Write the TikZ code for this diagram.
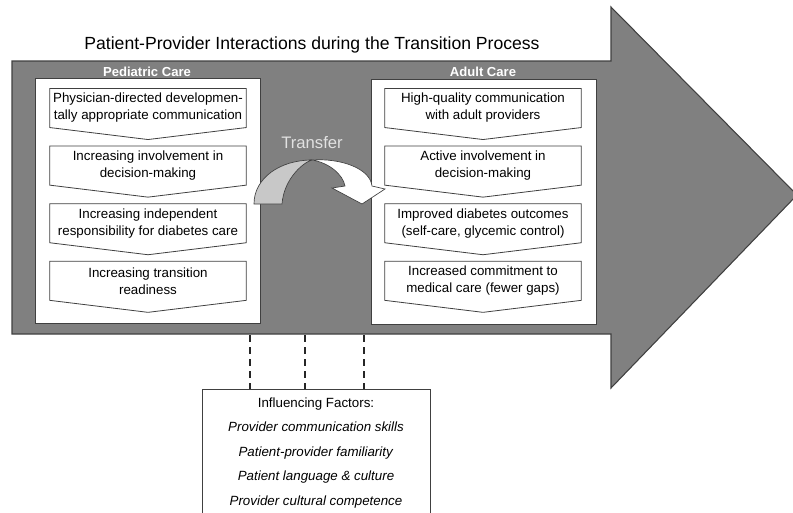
\documentclass[tikz,border=0pt]{standalone}
\usepackage{fontspec}
\setmainfont{Liberation Sans}
\usetikzlibrary{positioning,calc}
\definecolor{arrowgray}{RGB}{128,128,128}
\definecolor{edgegray}{RGB}{64,64,64}
\definecolor{backgray}{RGB}{200,200,200}
\definecolor{labelgray}{RGB}{225,225,225}

\begin{document}
\begin{tikzpicture}[
    x=0.75pt, y=-0.75pt,
    node distance=13.9pt,
    txt/.style={font=\fontsize{10}{12.75}\selectfont},
    panel/.style={draw=edgegray, fill=white, line width=0.7pt, minimum width=168.75pt, minimum height=183.75pt, inner sep=0pt},
    chev/.style={txt, minimum width=147pt, minimum height=28.9pt, inner sep=0pt, align=center},
    chevline/.style={draw=edgegray, line width=0.6pt},
    head/.style={font=\fontsize{9.8}{12}\selectfont\bfseries, text=white},
    dashline/.style={line width=2pt, draw=black!85, dash pattern=on 5.2pt off 3.8pt}
]
    \useasboundingbox (0,0) rectangle (793,512);

    % Big arrow
    \draw[fill=arrowgray, draw=edgegray, line width=0.8pt] (12,61) -- (611,61) -- (611,7) -- (797,195)
        -- (611,388) -- (611,334) -- (12,334) -- cycle;
    \node[font=\fontsize{13.2}{15}\selectfont] (title) at (312,45) {Patient-Provider Interactions during the Transition Process};

    % Panels
    \node[panel] (pedbox) at (147.5,200.5) {};
    \node[panel] (adubox) at (483.5,201.5) {};
    \node[head] (pedlabel) at (147,71.5) {Pediatric Care};
    \node[head] (adulabel) at (483,71.5) {Adult Care};

    % Pediatric steps
    \node[chev] (ped1) at (148,108) {Physician-directed developmen-\\tally appropriate communication};
    \node[chev, below=of ped1] (ped2) {Increasing involvement in\\decision-making};
    \node[chev, below=of ped2] (ped3) {Increasing independent\\responsibility for diabetes care};
    \node[chev, below=of ped3] (ped4) {Increasing transition\\readiness};

    % Adult steps
    \node[chev] (adu1) at (483,108) {High-quality communication\\with adult providers};
    \node[chev, below=of adu1] (adu2) {Active involvement in\\decision-making};
    \node[chev, below=of adu2] (adu3) {Improved diabetes outcomes\\(self-care, glycemic control)};
    \node[chev, below=of adu3] (adu4) {Increased commitment to\\medical care (fewer gaps)};

    \foreach \b in {ped1,ped2,ped3,ped4,adu1,adu2,adu3,adu4}
        \draw[chevline] (\b.north west) -- (\b.north east) -- (\b.south east)
            -- ([yshift=-9pt]\b.south) -- (\b.south west) -- cycle;

    % Transfer
    \node[font=\fontsize{12.5}{14}\selectfont, text=labelgray] (transfer) at (312,143) {Transfer};
    \draw[fill=backgray, draw=edgegray, line width=0.5pt] (254,204) .. controls (254,178) and (280,160) .. (312,160)
        .. controls (304,162) and (284,178) .. (282,204) -- cycle;
    \draw[fill=white, draw=edgegray, line width=0.5pt] (312,160) .. controls (340,158) and (370,168) .. (372,186)
        -- (385,189) -- (362,204) -- (332,188) -- (345,186) .. controls (343,175) and (330,163) .. (312,160) -- cycle;

    % Influencing factors
    \node[txt, draw=edgegray, line width=0.6pt, fill=white, anchor=north, minimum width=171pt,
        inner ysep=6pt, align=center, font=\fontsize{10}{18.4}\selectfont] (factors) at (316,389)
        {Influencing Factors:\\ \textit{Provider communication skills}\\ \textit{Patient-provider familiarity}\\
         \textit{Patient language \& culture}\\ \textit{Provider cultural competence}\\ ~};
    \coordinate (d1) at (250,335);
    \coordinate (d2) at (305,335);
    \coordinate (d3) at (364,335);
    \foreach \d in {d1,d2,d3}
        \draw[dashline] (\d) -- (\d |- factors.north);
\end{tikzpicture}
\end{document}
